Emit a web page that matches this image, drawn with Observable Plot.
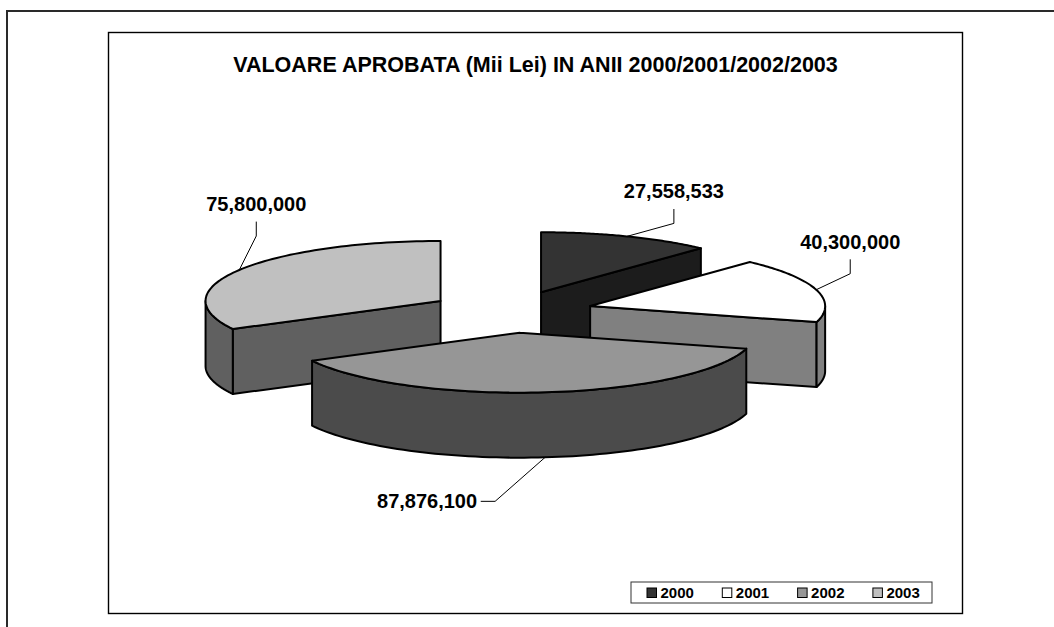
<!DOCTYPE html>
<html>
<head>
<meta charset="utf-8">
<script src="https://cdn.jsdelivr.net/npm/d3@7"></script>
<script src="https://cdn.jsdelivr.net/npm/@observablehq/plot@0.6"></script>
<style>
  html, body { margin: 0; padding: 0; background: #fff; }
  #wrap { position: relative; width: 1054px; height: 627px; overflow: hidden; }
  #outer { position: absolute; left: 6px; top: 10px; width: 1100px; height: 700px;
           border-top: 2px solid #2a2a2a; border-left: 2px solid #2a2a2a; pointer-events: none; }
  svg { display: block; }
</style>
</head>
<body>
<div id="wrap"><div id="chart"></div><div id="outer"></div></div>
<script>
// ---------------- data ----------------
const title = "VALOARE APROBATA (Mii Lei) IN ANII 2000/2001/2002/2003";
const years = ["2000", "2001", "2002", "2003"];
const values = [27558533, 40300000, 87876100, 75800000];
const valueLabels = ["27,558,533", "40,300,000", "87,876,100", "75,800,000"];

// ---------------- styles / layout ----------------
const topColors  = ["#333333", "#ffffff", "#969696", "#c0c0c0"];
const sideColors = ["#1c1c1c", "#808080", "#4b4b4b", "#606060"];
const W = 1054, H = 627;
const frame = {left: 108, top: 32, right: 962, bottom: 613};
const pie = {cx: 510.5, cy: 311.3, rx: 235, ry: 60, depth: 65, explode: 0.35};
// leader-line elbow offsets from each slice's anchor point
const leaderBend = [[47, -13], [34, -16], [-50, 44], [17, -34]];
const font = "Arial, 'Liberation Sans', Helvetica, sans-serif";

// ---------------- geometry from values ----------------
const total = d3.sum(values);
let acc = 0;
const slices = values.map((v, i) => {
  const a0 = acc / total * 2 * Math.PI; acc += v;
  const a1 = acc / total * 2 * Math.PI;
  const mid = (a0 + a1) / 2;
  const c = {x: pie.cx + pie.explode * pie.rx * Math.sin(mid),
             y: pie.cy - pie.explode * pie.ry * Math.cos(mid)};
  return {i, year: years[i], value: v, label: valueLabels[i], a0, a1, mid, c};
});
const P = (c, a, dz = 0) => ({x: c.x + pie.rx * Math.sin(a), y: c.y - pie.ry * Math.cos(a) + dz});
const N = 80;
const arcPts = (c, a0, a1, dz = 0) => d3.range(N + 1).map(k => P(c, a0 + (a1 - a0) * k / N, dz));

const polys = [];
slices.slice().sort((a, b) => a.c.y - b.c.y).forEach(s => {
  const {c, a0, a1} = s, D = pie.depth;
  const cb = {x: c.x, y: c.y + D};
  const side = sideColors[s.i];
  if (Math.sin(a0) < -1e-6) polys.push({fill: side, pts: [c, P(c, a0), P(c, a0, D), cb, c]});
  if (Math.sin(a1) > 1e-6) polys.push({fill: side, pts: [c, P(c, a1), P(c, a1, D), cb, c]});
  const b0 = Math.max(a0, Math.PI / 2), b1 = Math.min(a1, 3 * Math.PI / 2);
  if (b1 > b0) polys.push({fill: side, pts: [...arcPts(c, b0, b1, 0), ...arcPts(c, b1, b0, D), P(c, b0)]});
  polys.push({fill: topColors[s.i], pts: [c, ...arcPts(c, a0, a1, 0), c]});
});

// labels + leaders
const leaders = [], labelsUp = [], labelsDown = [];
slices.forEach(s => {
  const front = Math.cos(s.mid) < 0;
  const anchor = P(s.c, s.mid, front ? pie.depth : 0);
  const [bx, by] = leaderBend[s.i];
  const elbow = {x: anchor.x + bx, y: anchor.y + by};
  if (by < 0) {
    const end = {x: elbow.x, y: elbow.y - 14};
    [anchor, elbow, end].forEach(p => leaders.push({...p, k: s.i}));
    labelsUp.push({x: end.x, y: end.y - 11, text: s.label});
  } else {
    const end = {x: elbow.x - 14, y: elbow.y};
    [anchor, elbow, end].forEach(p => leaders.push({...p, k: s.i}));
    labelsDown.push({x: end.x - 4, y: end.y, text: s.label});
  }
});

// legend
const legendBox = {x1: 631, x2: 932, y1: 582, y2: 603};
const legend = years.map((y, i) => ({year: y, x: 647 + i * 75.3, y: 588, fill: topColors[i]}));

// ---------------- plot ----------------
const marks = [
  ...polys.map(p => Plot.line(p.pts, {x: "x", y: "y", fill: p.fill, stroke: "#000", strokeWidth: 2, strokeLinejoin: "round"})),
  Plot.line(leaders, {x: "x", y: "y", z: "k", stroke: "#000", strokeWidth: 1}),
  Plot.text(labelsUp, {x: "x", y: "y", text: "text", textAnchor: "middle", lineAnchor: "bottom",
                       fontSize: 20, fontWeight: "bold", fill: "#000"}),
  Plot.text(labelsDown, {x: "x", y: "y", text: "text", textAnchor: "end", lineAnchor: "middle",
                         fontSize: 20, fontWeight: "bold", fill: "#000"}),
  Plot.text([title], {x: (frame.left + frame.right) / 2, y: 71.5, text: d => d, textAnchor: "middle",
                      lineAnchor: "bottom", fontSize: 21.5, fontWeight: "bold", fill: "#000"}),
  Plot.rect([legendBox], {x1: "x1", x2: "x2", y1: "y1", y2: "y2", fill: "#fff", stroke: "#333", strokeWidth: 1}),
  Plot.rect(legend, {x1: "x", x2: d => d.x + 9.5, y1: "y", y2: d => d.y + 9.5, fill: "fill", stroke: "#000", strokeWidth: 1}),
  Plot.text(legend, {x: d => d.x + 13, y: d => d.y + 5, text: "year", textAnchor: "start", lineAnchor: "middle",
                     fontSize: 15, fontWeight: "bold", fill: "#000"}),
  Plot.frame({stroke: "#000", strokeWidth: 1.4})
];

const chart = Plot.plot({
  width: W, height: H,
  marginLeft: frame.left, marginTop: frame.top,
  marginRight: W - frame.right, marginBottom: H - frame.bottom,
  x: {domain: [frame.left, frame.right], axis: null},
  y: {domain: [frame.top, frame.bottom], reverse: true, axis: null},
  color: {type: "identity"},
  style: {fontFamily: font, background: "#fff", overflow: "visible"},
  marks
});
document.getElementById("chart").appendChild(chart);
</script>
</body>
</html>
